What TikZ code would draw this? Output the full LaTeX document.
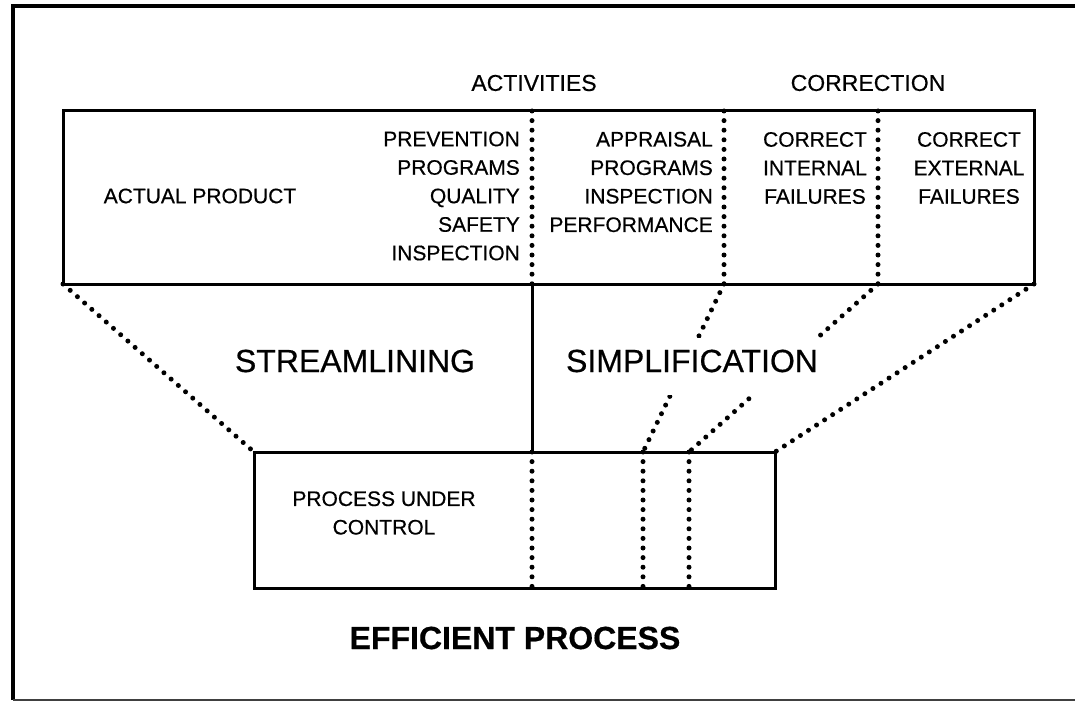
\documentclass[tikz,border=0pt]{standalone}
\usepackage{fontspec}
\setmainfont{Liberation Sans}[FakeBold=0.5]
\tikzset{
  marco/.style={line width=3pt},
  puntos/.style={line width=5pt, line cap=round, dash pattern=on 0pt off 9.6pt},
  texto/.style={font=\fontsize{21}{28.5}\selectfont, inner sep=0pt},
  titulo/.style={font=\fontsize{23}{28}\selectfont, inner sep=0pt},
  grande/.style={font=\fontsize{32}{36}\selectfont, inner sep=0pt},
}
\begin{document}
\begin{tikzpicture}[x=1pt, y=-1pt]
    \useasboundingbox (0,0) rectangle (1075,703);

    % Marco exterior
    \draw[line width=4pt] (1075,6) -- (12.7,6) -- (12.7,700);
    \draw[line width=2pt, black!75] (12.7,700) -- (1075,700);

    % Esquinas y divisiones de la caja superior
    \coordinate (tnw) at (63,111);
    \coordinate (tne) at (1034,111);
    \coordinate (tsw) at (63,284);
    \coordinate (tse) at (1034,284);
    \coordinate (d1n) at (532,111);
    \coordinate (d1s) at (532,284);
    \coordinate (d2n) at (724,111);
    \coordinate (d2s) at (724,284);
    \coordinate (d3n) at (878,111);
    \coordinate (d3s) at (878,284);

    % Esquinas y divisiones de la caja inferior
    \coordinate (bnw) at (254,452);
    \coordinate (bne) at (775,452);
    \coordinate (bse) at (775,588);
    \coordinate (e1n) at (532,452);
    \coordinate (e1s) at (532,588);
    \coordinate (e2n) at (643,452);
    \coordinate (e2s) at (643,588);
    \coordinate (e3n) at (689,452);
    \coordinate (e3s) at (689,588);

    % Cajas
    \draw[marco] (tnw) rectangle (tse);
    \draw[marco] (bnw) rectangle (bse);

    % Divisiones punteadas
    \draw[puntos] (d1n) -- (d1s);
    \draw[puntos] (d2n) -- (d2s);
    \draw[puntos] (d3n) -- (d3s);
    \draw[puntos] (e1n) -- (e1s);
    \draw[puntos] (e2n) -- (e2s);
    \draw[puntos] (e3n) -- (e3s);

    % Embudo entre las cajas
    \draw[marco] (d1s) -- (e1n);
    \draw[puntos] (tsw) -- (bnw);
    \draw[puntos] (d2s) -- (e2n);
    \draw[puntos] (d3s) -- (e3n);
    \draw[puntos] (tse) -- (bne);

    % Encabezados
    \node[titulo] (activ) at (534,83) {ACTIVITIES};
    \node[titulo] (correc) at (868,83) {CORRECTION};

    % Textos de la caja superior
    \node[texto] (actual) at (200,196) {ACTUAL PRODUCT};
    \node[texto, anchor=east, align=right] (prev) at (520,196)
        {PREVENTION\\PROGRAMS\\QUALITY\\SAFETY\\INSPECTION};
    \node[texto, anchor=east, align=right] (aprec) at (713,182)
        {APPRAISAL\\PROGRAMS\\INSPECTION\\PERFORMANCE};
    \node[texto, align=center] (cint) at (815,168) {CORRECT\\INTERNAL\\FAILURES};
    \node[texto, align=center] (cext) at (969,168) {CORRECT\\EXTERNAL\\FAILURES};

    % Textos del embudo
    \node[grande] (stream) at (355,361) {STREAMLINING};
    \node[grande, anchor=base, fill=white, inner ysep=12pt, text depth=11pt]
        (simpl) at (692,372) {SIMPLIFICATION};

    % Caja inferior
    \node[texto, align=center] (proc) at (384,513) {PROCESS UNDER\\CONTROL};
    \node[grande, font=\fontsize{32}{36}\selectfont\bfseries] (efic) at (515,638)
        {EFFICIENT PROCESS};
\end{tikzpicture}
\end{document}
